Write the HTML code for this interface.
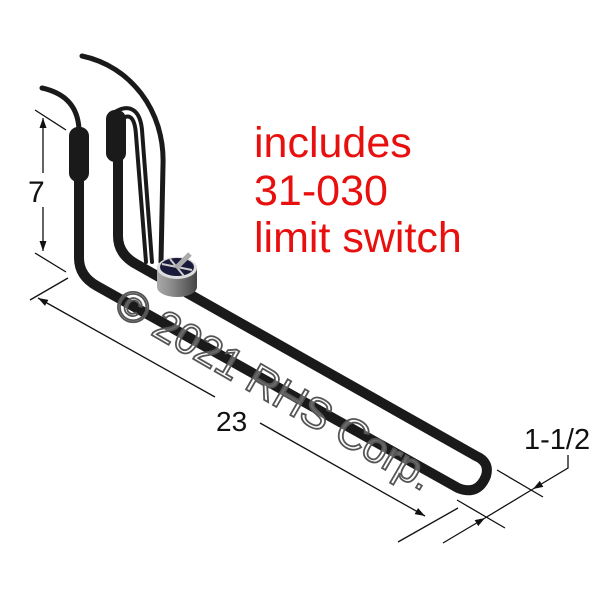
<!DOCTYPE html>
<html><head><style>html,body{margin:0;padding:0;background:#fff}svg{display:block}</style></head>
<body>
<svg width="600" height="600" viewBox="0 0 600 600" xmlns="http://www.w3.org/2000/svg">
<defs>
<marker id="ar" viewBox="0 0 10 10" refX="10" refY="5" markerWidth="10" markerHeight="10" orient="auto-start-reverse" markerUnits="userSpaceOnUse"><path d="M0,1.5 L10,5 L0,8.5 z" fill="#111"/></marker>
<linearGradient id="cyl" x1="0" x2="1"><stop offset="0" stop-color="#aaa"/><stop offset="0.4" stop-color="#888"/><stop offset="1" stop-color="#444"/></linearGradient>
</defs>
<g fill="none" stroke="#1a1a1a" stroke-linecap="round">
<path d="M42,88 C60,92 78,102 79,130" stroke-width="5"/>
<path d="M82,56 C130,66 165,110 163,165 L161,262" stroke-width="5"/>
<path d="M115,112 C128,104 140,108 142,130 L152,262" stroke-width="4"/>
<path d="M120,120 C130,112 135,118 136,135 L146,262" stroke-width="4"/>
<path d="M79,170 L79,258 Q79,276 97,286 L458,488 Q478,496 486,476 Q490,462 476,456 L136,264 Q118,254 118,236 L118,150" stroke-width="10"/>
</g>
<rect x="69" y="127" width="20" height="55" rx="9" fill="#1a1a1a"/>
<rect x="106" y="110" width="20" height="52" rx="9" fill="#1a1a1a"/>
<path d="M157,268 L157,287 A20,10 0 0 0 197,287 L197,268 z" fill="url(#cyl)"/>
<ellipse cx="177" cy="268" rx="20" ry="11" fill="#ddd"/>
<ellipse cx="177" cy="267" rx="17" ry="9" fill="#1a1a3a"/>
<path d="M162,264 L192,270 M170,259 L184,276" stroke="#ccc" stroke-width="2"/>
<path d="M176,268 L190,254" stroke="#aaa" stroke-width="5"/>
<g stroke="#111" stroke-width="1.3" fill="none">
<line x1="35" y1="110" x2="66" y2="130"/>
<line x1="35" y1="253" x2="66" y2="272"/>
<line x1="43" y1="118" x2="43" y2="173" marker-start="url(#ar)"/>
<line x1="43" y1="207" x2="43" y2="251" marker-end="url(#ar)"/>
<line x1="30" y1="300" x2="68" y2="278"/>
<line x1="398" y1="542" x2="458" y2="508"/>
<line x1="38" y1="298" x2="215" y2="397" marker-start="url(#ar)"/>
<line x1="260" y1="423" x2="425" y2="516" marker-end="url(#ar)"/>
<line x1="497" y1="470" x2="543" y2="497"/>
<line x1="457" y1="500" x2="505" y2="528"/>
<line x1="443" y1="543" x2="485" y2="518" marker-end="url(#ar)"/>
<line x1="485" y1="518" x2="533" y2="489"/>
<path d="M568,455 L568,468 L533,489" marker-end="url(#ar)"/>
</g>
<g font-family="Liberation Sans, sans-serif" fill="#111">
<text x="28" y="202" font-size="30">7</text>
<text x="216" y="431" font-size="28">23</text>
<text x="524" y="449" font-size="29">1-1/2</text>
</g>
<g font-family="Liberation Sans, sans-serif" fill="#e8100f" font-size="43">
<text x="254" y="157">includes</text>
<text x="254" y="205">31-030</text>
<text x="254" y="252">limit switch</text>
</g>
<text x="112" y="312" font-family="Liberation Sans, sans-serif" font-size="43" fill="#fff" fill-opacity="0.35" stroke="#555" stroke-width="1.8" transform="rotate(30 112 312)">© 2021 RHS Corp.</text>
</svg>
</body></html>
